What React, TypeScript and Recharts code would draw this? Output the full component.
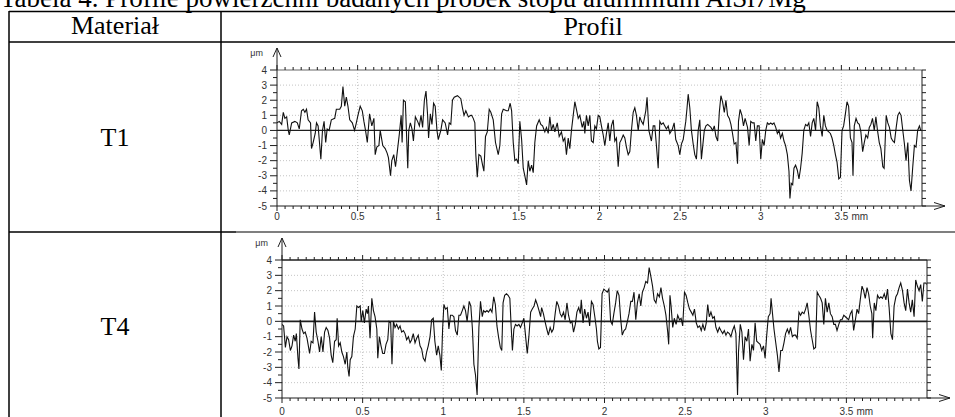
import React from 'react';
import { LineChart, Line, XAxis, YAxis, ReferenceLine } from 'recharts';

// profile T1: [position mm, height µm]
const profileT1: [number, number][] = [
  [0, 0.5], [0.014, 0.6], [0.029, 0.4], [0.039, 1.2], [0.049, 0.8], [0.06, 0.9], [0.07, 0], [0.076, -0.3],
  [0.091, 0.5], [0.111, 0.6], [0.126, 0.5], [0.138, 0.1], [0.152, 1.3], [0.163, 1.4], [0.173, 1.2], [0.183, 1.4],
  [0.193, 0.7], [0.208, 0.5], [0.214, -1.2], [0.224, -0.8], [0.237, -0.2], [0.245, 0.5], [0.255, 0.3], [0.265, -1],
  [0.272, -1.9], [0.282, 0], [0.292, 0.6], [0.302, -0.8], [0.311, 0.1], [0.323, 0], [0.337, 0.7], [0.358, 0.8],
  [0.368, 1.4], [0.389, 1.4], [0.399, 1.6], [0.409, 2.9], [0.42, 1.6], [0.43, 2.2], [0.44, 1.6], [0.451, 0.7],
  [0.467, 0.5], [0.481, 0], [0.492, 0.5], [0.502, 1], [0.516, 1.6], [0.529, 1.3], [0.539, 0.6], [0.549, 0],
  [0.56, -0.8], [0.574, 1.1], [0.588, 0.3], [0.601, 0.8], [0.609, -1.6], [0.619, -1.1], [0.632, -1], [0.64, 0],
  [0.656, -1], [0.671, -1.2], [0.683, -1.5], [0.691, -1.8], [0.704, -3], [0.712, -2], [0.724, -1.6], [0.735, -2.4],
  [0.745, -1.5], [0.759, -0.2], [0.77, 1], [0.776, -0.8], [0.784, 2], [0.796, 1.9], [0.811, -2.5], [0.817, 0],
  [0.827, 0.5], [0.837, 0.1], [0.846, -0.7], [0.858, 0.9], [0.872, 0.6], [0.883, 0.3], [0.893, 1], [0.903, 0.2],
  [0.914, 2], [0.924, 2.6], [0.934, 1], [0.94, -0.5], [0.951, 1.1], [0.961, 0.4], [0.971, 1.8], [0.981, 1.6],
  [0.992, 0], [1.0, -0.6], [1.016, 0], [1.027, 0.7], [1.043, 0.5], [1.058, -0.3], [1.068, 0.5], [1.078, 0.4],
  [1.088, 2], [1.099, 2.2], [1.119, 2.3], [1.14, 2.1], [1.15, 1.5], [1.16, 1], [1.171, 1.3], [1.187, 0.9],
  [1.202, 1], [1.207, 1], [1.217, 0.8], [1.227, 0.5], [1.233, -1.6], [1.242, -3.1], [1.252, -1.6], [1.264, -1.7],
  [1.275, -2.3], [1.283, -2.7], [1.293, -0.4], [1.304, -0.1], [1.316, 1.4], [1.326, 1.2], [1.341, 0.7], [1.355, -0.8],
  [1.372, -1.6], [1.382, -1], [1.393, 1.1], [1.403, 1.4], [1.424, 1.3], [1.434, 1.3], [1.446, 1.8], [1.455, 1.3],
  [1.465, -0.8], [1.475, -2], [1.486, -1.9], [1.496, -2.2], [1.506, 0.6], [1.517, -0.6], [1.527, -2.5], [1.537, -3],
  [1.548, -3.6], [1.558, -2], [1.568, -2.7], [1.579, -2.3], [1.589, -2.8], [1.599, -0.8], [1.61, 0.3], [1.626, 0.7],
  [1.636, 0.4], [1.647, 0.3], [1.661, -0.1], [1.671, 0.2], [1.682, -0.2], [1.692, 0.9], [1.702, 0], [1.713, 0.4],
  [1.723, -0.1], [1.738, 0.5], [1.75, -0.4], [1.764, -0.1], [1.775, -0.7], [1.785, -0.5], [1.795, -1.6], [1.806, -0.5],
  [1.816, -1.2], [1.826, 0], [1.837, 1], [1.847, 1.9], [1.857, 1.4], [1.868, 0.8], [1.878, 1], [1.893, 0.2],
  [1.903, 0.6], [1.909, -0.2], [1.919, 1], [1.93, 0.3], [1.94, 1], [1.95, -0.7], [1.961, -0.8], [1.971, 0.3],
  [1.981, 0.1], [1.992, 1], [2.002, 0.9], [2.012, 0.3], [2.023, -0.3], [2.033, -1], [2.043, -0.2], [2.054, 0.5],
  [2.064, -0.7], [2.074, 0.3], [2.085, 0.7], [2.095, -0.7], [2.105, -0.5], [2.116, -2.4], [2.126, -0.8], [2.136, -0.6],
  [2.147, -0.3], [2.157, -0.5], [2.167, -1.1], [2.178, -1.6], [2.188, -1.4], [2.198, 0], [2.209, 1.2], [2.219, 1.5],
  [2.229, 1], [2.24, 0], [2.25, 0.9], [2.26, 0.6], [2.271, 0.4], [2.287, 1.3], [2.295, 2.2], [2.306, 0],
  [2.322, -0.7], [2.333, 0.3], [2.343, 0.3], [2.353, -1], [2.364, -2.5], [2.374, 0.6], [2.384, 0.4], [2.395, 0.5],
  [2.415, 0.1], [2.426, 0.3], [2.436, -0.2], [2.452, 0.1], [2.463, 0.5], [2.473, -0.6], [2.488, -1], [2.498, -1.6],
  [2.508, -0.9], [2.519, -0.6], [2.535, 0.6], [2.543, 1.5], [2.55, 2.4], [2.56, 1.5], [2.57, 0], [2.581, -0.9],
  [2.591, -1.6], [2.601, -1.9], [2.612, 0], [2.622, 0.7], [2.632, -1.9], [2.65, 0], [2.66, 0.3], [2.671, 0.4],
  [2.691, 0.2], [2.702, 0], [2.712, 0.3], [2.722, -0.4], [2.733, -0.7], [2.743, 1.2], [2.753, 2.3], [2.763, 1.9],
  [2.774, 1.2], [2.784, 2], [2.794, 1], [2.805, 0.8], [2.815, 0.4], [2.825, -0.2], [2.835, -0.9], [2.846, -0.8],
  [2.856, -2.2], [2.862, 0.6], [2.872, 1.4], [2.883, 1], [2.893, 0.3], [2.903, 0.8], [2.918, 0.2], [2.928, -1],
  [2.938, 0.6], [2.949, 0.5], [2.959, 0.5], [2.969, -0.7], [2.979, 0.3], [2.99, 0.3], [3.0, -1.9], [3.01, -0.6],
  [3.021, -1], [3.031, 0], [3.041, 0.5], [3.051, 0.4], [3.062, 0.5], [3.072, 0.4], [3.082, 0.5], [3.093, 0.2],
  [3.103, -0.2], [3.113, 0], [3.123, -0.5], [3.134, -0.2], [3.144, -0.7], [3.154, -1], [3.165, -1.6], [3.175, -2.7],
  [3.181, -4.5], [3.189, -3.5], [3.198, -3.6], [3.206, -2.5], [3.216, -2.3], [3.226, -2.6], [3.237, -3.2], [3.247, -2.5],
  [3.257, -1.5], [3.267, 0], [3.278, 0.4], [3.288, 0.3], [3.298, 0.5], [3.309, -0.4], [3.319, 0.5], [3.329, 0.8],
  [3.34, 0], [3.35, 1.9], [3.36, 1.5], [3.37, 0.3], [3.381, -0.4], [3.391, 1], [3.401, 0.3], [3.412, 0],
  [3.432, -0.2], [3.442, -0.5], [3.453, -1], [3.463, -1.6], [3.473, -2.1], [3.484, -3.2], [3.494, -3.1], [3.504, 0],
  [3.514, 0.3], [3.525, 1.1], [3.535, 1.9], [3.545, 1.6], [3.556, -0.5], [3.566, -0.8], [3.572, -3], [3.58, 0.3],
  [3.591, 0.8], [3.601, 0.5], [3.611, 0.4], [3.621, -0.1], [3.632, -1.4], [3.642, -0.8], [3.652, -0.3], [3.663, -0.5],
  [3.673, 0.2], [3.683, 0.4], [3.693, 0.8], [3.704, 0], [3.714, 0.9], [3.724, 0], [3.735, -0.8], [3.745, -1.2],
  [3.757, -2.4], [3.765, -2.5], [3.778, 1], [3.788, 0.5], [3.798, 0.2], [3.809, -0.5], [3.819, -0.7], [3.829, -0.8],
  [3.84, 0.2], [3.85, 1], [3.86, 1.2], [3.87, 1], [3.881, 0], [3.891, -0.9], [3.901, -2], [3.912, -0.8],
  [3.922, -3.3], [3.932, -4], [3.942, -2.5], [3.953, -1], [3.963, -1.1], [3.973, 0], [3.984, 0.3], [3.992, 0],
];

// profile T4: [position mm, height µm]
const profileT4: [number, number][] = [
  [0, -0.2], [0.01, -0.3], [0.021, -1.7], [0.031, -1], [0.041, -1.2], [0.052, -1.9], [0.062, -1.6], [0.072, -0.9],
  [0.082, -1.3], [0.089, -0.8], [0.099, -2.4], [0.105, -3.1], [0.113, 0.1], [0.124, -0.5], [0.134, -0.8], [0.144, -0.7],
  [0.155, -1.1], [0.165, -1.7], [0.171, -2.1], [0.181, -1.3], [0.192, -1.4], [0.202, 0.6], [0.212, -0.7], [0.223, -1.3],
  [0.233, -2], [0.243, -1], [0.254, -2], [0.264, -0.7], [0.274, -0.4], [0.285, -0.6], [0.295, -1.1], [0.305, -2.2],
  [0.315, -2.7], [0.326, -1.3], [0.336, -1.2], [0.342, 0.2], [0.351, -1.6], [0.361, -1.4], [0.371, -2], [0.381, -2.3],
  [0.392, -2.8], [0.402, -2], [0.408, -3], [0.416, -3.6], [0.423, -2.5], [0.433, -2.3], [0.443, -1], [0.454, -0.5],
  [0.464, 1], [0.474, 0.9], [0.485, 1], [0.491, 0], [0.501, 0.7], [0.511, -0.1], [0.522, 0.8], [0.53, 0.5],
  [0.536, 1], [0.546, -1.1], [0.557, 1.5], [0.567, 0.7], [0.577, 0.3], [0.588, -0.5], [0.594, -2.4], [0.604, -1],
  [0.614, -1.6], [0.625, -2.1], [0.635, -2.1], [0.645, -1.5], [0.656, -1.2], [0.664, 0], [0.674, -0.1], [0.682, -2.8],
  [0.691, 0], [0.701, -0.4], [0.711, -0.2], [0.722, -0.5], [0.732, -0.3], [0.742, -0.7], [0.753, -0.6], [0.763, -0.8],
  [0.773, -1.2], [0.784, -1], [0.794, -1.4], [0.804, -1.2], [0.814, -0.8], [0.825, -1.4], [0.835, -1.1], [0.845, -0.9],
  [0.856, -1.6], [0.866, -1.8], [0.876, -2.4], [0.887, -2.6], [0.897, -2], [0.907, -1.6], [0.918, -1], [0.928, 0.1],
  [0.938, 0.2], [0.948, -1.3], [0.959, -2.2], [0.969, -1.6], [0.979, -2.2], [0.988, -3.2], [0.996, -0.5], [1.004, 1.1],
  [1.014, 0.8], [1.025, 0.9], [1.035, -0.5], [1.045, 0.4], [1.056, 0.4], [1.066, 0.3], [1.076, -0.6], [1.087, -0.9],
  [1.097, 0.4], [1.107, 0.4], [1.118, 0.7], [1.128, 1], [1.138, 0.7], [1.148, 0], [1.161, 1.3], [1.171, 1],
  [1.181, -0.5], [1.19, -2.8], [1.2, -3.5], [1.21, -4.8], [1.221, -0.4], [1.231, 1.3], [1.242, 0.3], [1.25, 0.7],
  [1.26, 0.6], [1.271, 0.7], [1.281, 0.6], [1.292, 0.8], [1.302, 0.6], [1.313, 1.6], [1.323, 1.1], [1.333, -0.3],
  [1.344, -1.1], [1.354, -1.7], [1.363, -1.9], [1.371, 1.2], [1.381, 1.7], [1.392, 1.8], [1.402, 1.7], [1.413, 1.5],
  [1.421, -0.3], [1.429, -1.9], [1.438, -0.5], [1.448, -0.2], [1.458, -0.3], [1.469, -0.2], [1.479, -0.4], [1.49, -0.1],
  [1.5, 0.2], [1.51, -0.9], [1.521, -2.1], [1.531, -1], [1.542, 0.6], [1.552, 0.8], [1.563, 1], [1.573, 1.4],
  [1.583, 1.1], [1.594, 0.7], [1.604, 0.3], [1.61, 0.9], [1.621, 0.5], [1.631, 0], [1.642, -0.5], [1.652, -0.9],
  [1.663, -0.4], [1.673, -0.7], [1.683, -0.5], [1.694, 0.5], [1.704, 1.3], [1.715, 1], [1.725, 0.5], [1.735, 0.3],
  [1.746, 0.6], [1.756, 0.1], [1.767, 1.2], [1.777, 0.4], [1.788, -0.1], [1.798, 0], [1.808, -0.7], [1.819, -0.2],
  [1.829, 0.6], [1.84, 0.9], [1.85, 0.5], [1.856, 1.4], [1.867, -0.1], [1.877, 0.8], [1.888, 0.2], [1.898, 0.6],
  [1.908, -0.3], [1.919, 1.3], [1.929, 1.1], [1.94, 0.3], [1.95, -0.5], [1.956, -1.3], [1.965, -1.8], [1.975, -1.7],
  [1.985, 1.8], [1.996, 2.1], [2.006, 2], [2.017, 1.9], [2.027, 2.1], [2.038, 0], [2.048, -0.2], [2.058, 0.5],
  [2.069, 1.2], [2.079, 2], [2.09, 1.7], [2.1, 0.2], [2.11, -0.9], [2.121, -0.6], [2.131, -0.5], [2.142, 0],
  [2.152, 0.5], [2.163, 1.3], [2.173, 1.3], [2.183, 1.9], [2.194, 0.1], [2.204, 1.2], [2.215, 1.8], [2.225, 1],
  [2.235, 1.9], [2.246, 2.2], [2.256, 2.6], [2.267, 2.5], [2.277, 3.5], [2.288, 2.9], [2.298, 2.3], [2.308, 1.4],
  [2.319, 1.2], [2.329, 1.8], [2.34, 1.6], [2.35, 2.2], [2.36, 1.5], [2.371, 1], [2.381, 0.4], [2.392, -0.7],
  [2.398, -1.5], [2.406, 1.7], [2.413, 1], [2.423, -0.4], [2.433, 0.2], [2.444, -0.2], [2.454, 0.4], [2.465, 0.1],
  [2.475, 0.2], [2.485, -0.3], [2.496, 1.9], [2.506, 1.7], [2.517, 1.2], [2.527, 0.8], [2.538, 0.6], [2.548, 0.4],
  [2.558, 0.8], [2.569, -0.1], [2.579, -0.4], [2.59, -0.3], [2.6, -0.6], [2.61, -0.2], [2.621, -0.6], [2.631, -0.1],
  [2.64, 1.1], [2.65, 0.3], [2.66, 0.6], [2.671, 0.2], [2.681, 0.3], [2.691, -0.4], [2.702, -0.7], [2.712, -0.4],
  [2.722, -0.6], [2.733, -0.8], [2.743, -0.6], [2.753, -0.9], [2.763, -0.7], [2.774, -0.8], [2.784, -1], [2.794, -0.6],
  [2.805, -0.3], [2.815, -0.8], [2.825, -4.8], [2.831, -2], [2.842, -0.2], [2.852, -0.7], [2.862, -2.5], [2.872, -1],
  [2.883, -1.3], [2.893, -0.5], [2.903, -2.6], [2.914, -1.5], [2.924, -1.9], [2.934, -0.1], [2.944, -1.3], [2.955, -1.4],
  [2.965, -1.5], [2.975, -1.9], [2.986, -1.6], [2.996, -2.4], [3.006, -0.9], [3.016, 0.3], [3.027, 0.5], [3.033, 1.5],
  [3.041, 0.6], [3.051, -0.5], [3.062, -1.4], [3.072, -2.2], [3.082, -3.3], [3.093, -1.9], [3.103, -1.9], [3.113, -1.4],
  [3.123, -0.8], [3.134, -0.5], [3.144, -0.8], [3.154, -0.4], [3.165, -1], [3.175, -0.9], [3.185, -0.9], [3.195, -1.1],
  [3.206, 0.6], [3.216, 0.4], [3.226, 0.6], [3.237, 0.5], [3.247, 0.8], [3.257, 1.2], [3.267, 0.4], [3.278, -0.6],
  [3.288, -1.2], [3.298, -1.8], [3.309, -1.7], [3.319, 1.9], [3.329, 1.7], [3.34, 1.5], [3.35, 1.2], [3.36, -0.2],
  [3.37, 1.5], [3.381, 0.6], [3.391, 1.2], [3.401, 0.5], [3.412, 0.3], [3.422, -0.2], [3.432, -0.2], [3.442, -0.6],
  [3.453, -0.2], [3.463, 0.1], [3.473, 0.1], [3.484, 0.4], [3.494, 0.3], [3.504, 0.2], [3.514, 0.1], [3.525, 0.5],
  [3.535, 0.7], [3.545, -0.6], [3.556, 0.1], [3.566, 0.8], [3.576, 0.5], [3.586, 1.4], [3.597, 2.3], [3.607, 2],
  [3.617, 1.5], [3.628, 2.2], [3.638, 1.8], [3.648, 1], [3.658, 0.5], [3.663, -1.1], [3.673, 1.2], [3.683, 0.7],
  [3.693, 1.7], [3.704, 1.5], [3.714, 1.6], [3.724, 1.5], [3.735, 1.8], [3.745, 1.4], [3.755, 2.1], [3.765, 0.9],
  [3.776, -0.8], [3.786, -1.2], [3.796, 1], [3.807, 1.6], [3.817, 1.8], [3.827, 2.2], [3.837, 2.5], [3.848, 2],
  [3.858, 1.2], [3.868, 0.7], [3.879, 2.1], [3.889, 1.2], [3.899, 0.6], [3.909, 1.4], [3.92, 0.3], [3.93, 2.7],
  [3.94, 2.3], [3.951, 2], [3.961, 2.4], [3.971, 1.3], [3.981, 2.5], [3.992, 2.5], [3.998, 2.4],
];

const title = 'Tabela 4. Profile powierzchni badanych próbek stopu aluminium AlSi7Mg';
const headers = ['Materiał', 'Profil'];
const materials = ['T1', 'T4'];

const xTickLabels = [0, 0.5, 1, 1.5, 2, 2.5, 3, 3.5];
const yTickLabels = [-5, -4, -3, -2, -1, 0, 1, 2, 3, 4];
const gridX = [0.5, 1, 1.5, 2, 2.5, 3, 3.5];
const gridY = [-4, -3, -2, -1, 1, 2, 3];

// tick positions only (not data)
const steps = (from: number, to: number, step: number) => {
  const out: number[] = [];
  for (let v = from; v <= to + 1e-9; v += step) out.push(Math.round(v * 100) / 100);
  return out;
};
const xMinorTicks = steps(0, 3.95, 0.05);
const bottomTicks = [...xMinorTicks, 4];
const yMinorTicks = steps(-5, 4, 0.5);

const INK = '#1e1e1e';
const GRID = '#c4c4c4';
const SANS = '"Liberation Sans", Arial, sans-serif';
const SERIF = '"Liberation Serif", "Times New Roman", serif';

const isHalf = (v: number) => Math.abs(v * 2 - Math.round(v * 2)) < 1e-6;

function BottomTick(props: any) {
  const { x, y, payload, labelDy } = props;
  const v = payload.value;
  if (v >= 4) {
    return (
      <g>
        <line x1={x} y1={y} x2={x + 23} y2={y} stroke={INK} />
        <polyline points={`${x + 12},${y - 3.5} ${x + 23},${y} ${x + 12},${y + 3.5}`} fill="none" stroke={INK} />
      </g>
    );
  }
  const major = isHalf(v);
  return (
    <g>
      <line x1={x} y1={y} x2={x} y2={y + (major ? 5 : 3)} stroke={INK} />
      {xTickLabels.includes(v) && (
        <text x={x} y={y + labelDy} textAnchor="middle" fontSize={10} fill="#333" fontFamily={SANS}>{v}</text>
      )}
      {v === 3.5 && (
        <text x={x + 10} y={y + labelDy} fontSize={10} fill="#333" fontFamily={SANS}>mm</text>
      )}
    </g>
  );
}

function TopTick(props: any) {
  const { x, y, payload } = props;
  const major = isHalf(payload.value);
  return <line x1={x} y1={y} x2={x} y2={y - (major ? 5 : 3)} stroke={INK} />;
}

function LeftTick(props: any) {
  const { x, y, payload } = props;
  const v = payload.value;
  const major = yTickLabels.includes(v);
  return (
    <g>
      <line x1={x} y1={y} x2={x - (major ? 7 : 4)} y2={y} stroke={INK} />
      {major && (
        <text x={x - 10} y={y + 3.5} textAnchor="end" fontSize={10} fill="#333" fontFamily={SANS}>{v}</text>
      )}
      {v === 4 && (
        <g>
          <line x1={x} y1={y} x2={x} y2={y - 22} stroke={INK} />
          <polyline points={`${x - 4},${y - 13} ${x},${y - 22} ${x + 4},${y - 13}`} fill="none" stroke={INK} />
          <text x={x - 14} y={y - 14} textAnchor="end" fontSize={9} fill="#333" fontFamily={SANS}>μm</text>
        </g>
      )}
    </g>
  );
}

function RightTick(props: any) {
  const { x, y } = props;
  return <line x1={x} y1={y} x2={x + 4} y2={y} stroke={INK} />;
}

type Cfg = {
  left: number; top: number; width: number; height: number;
  leftW: number; rightW: number; marginTop: number; bottomH: number;
  labelDy: number; zeroWidth: number; topStroke: string;
};

function ProfileChart({ points, cfg }: { points: [number, number][]; cfg: Cfg }) {
  const data = points.map(([x, y]) => ({ x, y }));
  return (
    <div style={{ position: 'absolute', left: cfg.left, top: cfg.top }}>
      <LineChart
        width={cfg.width}
        height={cfg.height}
        data={data}
        margin={{ top: cfg.marginTop, right: 0, bottom: 0, left: 0 }}
      >
        {gridY.map((v) => (
          <ReferenceLine key={'gy' + v} y={v} stroke={GRID} strokeDasharray="1 2" />
        ))}
        {gridX.map((v) => (
          <ReferenceLine key={'gx' + v} x={v} stroke={GRID} strokeDasharray="1 2" />
        ))}
        <XAxis
          dataKey="x"
          type="number"
          domain={[0, 4]}
          ticks={bottomTicks}
          interval={0}
          height={cfg.bottomH}
          tickSize={0}
          tickMargin={0}
          tickLine={false}
          axisLine={{ stroke: INK }}
          tick={(p: any) => <BottomTick {...p} labelDy={cfg.labelDy} />}
          allowDataOverflow
        />
        <XAxis
          xAxisId="top"
          dataKey="x"
          orientation="top"
          type="number"
          domain={[0, 4]}
          ticks={xMinorTicks}
          interval={0}
          height={5}
          tickSize={0}
          tickMargin={0}
          tickLine={false}
          axisLine={{ stroke: cfg.topStroke, strokeWidth: 1.5 }}
          tick={(p: any) => <TopTick {...p} />}
          allowDataOverflow
        />
        <YAxis
          type="number"
          domain={[-5, 4]}
          ticks={yMinorTicks}
          interval={0}
          width={cfg.leftW}
          tickSize={0}
          tickMargin={0}
          tickLine={false}
          axisLine={{ stroke: INK }}
          tick={(p: any) => <LeftTick {...p} />}
          allowDataOverflow
        />
        <YAxis
          yAxisId="right"
          orientation="right"
          type="number"
          domain={[-5, 4]}
          ticks={yMinorTicks}
          interval={0}
          width={cfg.rightW}
          tickSize={0}
          tickMargin={0}
          tickLine={false}
          axisLine={{ stroke: INK }}
          tick={(p: any) => <RightTick {...p} />}
          allowDataOverflow
        />
        <ReferenceLine y={0} stroke={INK} strokeWidth={cfg.zeroWidth} />
        <Line
          type="linear"
          dataKey="y"
          stroke="#111"
          strokeWidth={1.1}
          dot={false}
          isAnimationActive={false}
        />
      </LineChart>
    </div>
  );
}

const chartT1: Cfg = {
  left: 230, top: 40, width: 725, height: 192,
  leftW: 47, rightW: 33, marginTop: 25, bottomH: 26,
  labelDy: 14, zeroWidth: 1.2, topStroke: '#9a9a9a',
};

const chartT4: Cfg = {
  left: 230, top: 234, width: 725, height: 183,
  leftW: 52, rightW: 28, marginTop: 21, bottomH: 19,
  labelDy: 17, zeroWidth: 1.8, topStroke: INK,
};

export default function App() {
  return (
    <div
      style={{
        position: 'absolute', left: 0, top: 0, width: 955, height: 417,
        overflow: 'hidden', background: '#fff',
      }}
    >
      <svg width={955} height={417} style={{ position: 'absolute', left: 0, top: 0 }}>
        <text x={0} y={6.5} fontSize={27} fontFamily={SERIF} fill="#000">{title}</text>
        <line x1={9} y1={11.5} x2={955} y2={11.5} stroke="#000" strokeWidth={1.5} />
        <line x1={9} y1={42} x2={955} y2={42} stroke="#000" strokeWidth={1.5} />
        <line x1={9} y1={11} x2={9} y2={417} stroke="#000" strokeWidth={1.5} />
        <line x1={221} y1={11} x2={221} y2={417} stroke="#000" strokeWidth={1.5} />
        <line x1={9} y1={232} x2={236} y2={232} stroke="#000" strokeWidth={1.5} />
        <line x1={236} y1={232} x2={955} y2={232} stroke="#555" strokeWidth={1.5} />
        <text x={115} y={34} fontSize={26} textAnchor="middle" fontFamily={SERIF}>{headers[0]}</text>
        <text x={593} y={35} fontSize={26} textAnchor="middle" fontFamily={SERIF}>{headers[1]}</text>
        <text x={115} y={145.5} fontSize={26} textAnchor="middle" fontFamily={SERIF}>{materials[0]}</text>
        <text x={115} y={335} fontSize={26} textAnchor="middle" fontFamily={SERIF}>{materials[1]}</text>
      </svg>
      <ProfileChart points={profileT1} cfg={chartT1} />
      <ProfileChart points={profileT4} cfg={chartT4} />
    </div>
  );
}
